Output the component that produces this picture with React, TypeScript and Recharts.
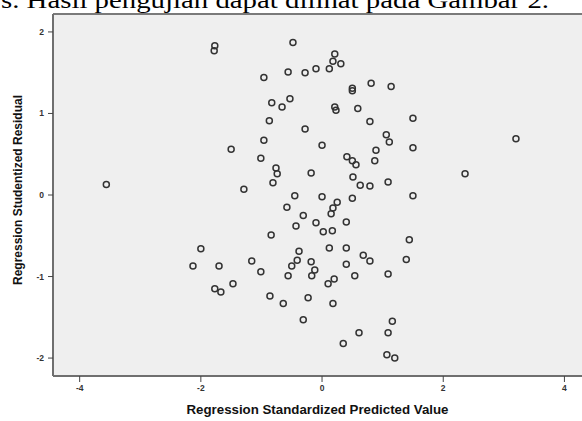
import React from 'react';
import { ScatterChart, Scatter, XAxis, YAxis, CartesianGrid, ReferenceLine } from 'recharts';

// Regression Standardized Predicted Value (x) and Studentized Residual (y)
const predictedValues = [
  -1.77, -1.78, -0.48, -0.96, -0.56, -0.28, -0.10, -0.83, -0.66, -0.53,
  -0.87, -0.28, -0.96, -1.50, -1.01, -0.76, -0.74, -0.18, -0.81, -1.29,
  -3.56, 0.00, 0.21, 0.18, 0.31, 0.12, 0.50, 0.50, 0.81, 1.14,
  0.21, 0.23, 0.59, 0.79, 1.50, 1.06, 1.11, 0.89, 0.87, 0.41,
  0.50, 0.56, 1.50, 0.51, 0.63, 0.79, 1.09, 2.36, 3.20, 1.50,
  0.00, -0.45, 0.25, 0.50, 0.18, 0.15, -0.58, -0.31, -0.43, -0.10,
  0.02, 0.17, 0.40, -0.84, -2.00, -2.13, -1.70, -1.16, -1.01, -0.38,
  -0.41, -0.50, -0.56, -0.18, -0.12, -0.17, 1.44, 0.12, 0.40, 0.68,
  0.79, 1.39, 0.40, 0.54, 1.09, 0.10, 0.20, -1.77, -1.67, -1.47,
  -0.86, -0.64, -0.23, 0.18, -0.31, 1.16, 0.61, 1.09, 0.35, 1.07,
  1.20,
];
const residualValues = [
  1.83, 1.77, 1.87, 1.44, 1.51, 1.50, 1.55, 1.13, 1.08, 1.18,
  0.91, 0.81, 0.67, 0.56, 0.45, 0.33, 0.26, 0.27, 0.15, 0.07,
  0.13, 0.61, 1.73, 1.64, 1.61, 1.55, 1.31, 1.28, 1.37, 1.33,
  1.08, 1.04, 1.06, 0.90, 0.94, 0.74, 0.65, 0.55, 0.42, 0.47,
  0.42, 0.37, 0.58, 0.22, 0.12, 0.11, 0.16, 0.26, 0.69, -0.01,
  -0.02, -0.01, -0.09, -0.04, -0.16, -0.23, -0.15, -0.25, -0.38, -0.34,
  -0.45, -0.44, -0.33, -0.49, -0.66, -0.87, -0.87, -0.81, -0.94, -0.69,
  -0.80, -0.87, -0.99, -0.82, -0.92, -0.99, -0.55, -0.65, -0.65, -0.74,
  -0.81, -0.79, -0.85, -0.99, -0.97, -1.09, -1.03, -1.15, -1.19, -1.09,
  -1.24, -1.33, -1.26, -1.33, -1.53, -1.55, -1.69, -1.69, -1.82, -1.96,
  -2.00,
];
const xTicks = [-4, -2, 0, 2, 4];
const yTicks = [-2, -1, 0, 1, 2];
const xDomain = [-4.44, 4.29];
const yDomain = [-2.22, 2.22];
const xTitle = 'Regression Standardized Predicted Value';
const yTitle = 'Regression Studentized Residual';
const captionText = 's. Hasil pengujian dapat dilihat pada Gambar 2.';

const data = predictedValues.map((x, i) => ({ x, y: residualValues[i] }));

const Ring = (props: any) => {
  const { cx, cy } = props;
  if (cx == null || cy == null) return null;
  return <circle cx={cx} cy={cy} r={3} fill="none" stroke="#333" strokeWidth={1.5} />;
};

const YTitle = (props: any) => {
  const vb = props.viewBox || {};
  const cy = vb.y + vb.height / 2 - 5;
  return (
    <text
      x={18}
      y={cy}
      transform={`rotate(-90, 18, ${cy})`}
      textAnchor="middle"
      dominantBaseline="central"
      fontFamily="Liberation Sans, Arial, sans-serif"
      fontWeight="bold"
      fontSize={12}
      fill="#111"
    >
      {yTitle}
    </text>
  );
};

const XTitle = (props: any) => {
  const vb = props.viewBox || {};
  const cx = vb.x + vb.width / 2;
  return (
    <text
      x={cx}
      y={414}
      textAnchor="middle"
      fontFamily="Liberation Sans, Arial, sans-serif"
      fontWeight="bold"
      fontSize={12}
      fill="#111"
      textLength={262}
      lengthAdjust="spacingAndGlyphs"
    >
      {xTitle}
    </text>
  );
};

const tickStyle = { fontSize: 8.5, fill: '#333', fontWeight: 'bold', fontFamily: 'Liberation Sans, Arial, sans-serif' };

export default function App() {
  return (
    <div style={{ position: 'absolute', left: 0, top: 0, width: 582, height: 421, background: '#fff', overflow: 'hidden' }}>
      <ScatterChart width={582} height={421} margin={{ top: 14, right: 0, left: 0, bottom: 0 }}>
        <CartesianGrid fill="#efefef" stroke="none" horizontal={false} vertical={false} />
        <XAxis
          type="number"
          dataKey="x"
          domain={xDomain}
          ticks={xTicks}
          allowDataOverflow
          height={45}
          axisLine={{ stroke: '#6f6f6f', strokeWidth: 2 }}
          tickLine={{ stroke: '#444' }}
          tickSize={6}
          tickMargin={3}
          tick={tickStyle}
          label={{ content: XTitle }}
        />
        <YAxis
          type="number"
          dataKey="y"
          domain={yDomain}
          ticks={yTicks}
          allowDataOverflow
          width={53}
          axisLine={{ stroke: '#6f6f6f', strokeWidth: 2 }}
          tickLine={{ stroke: '#444' }}
          tickSize={5}
          tickMargin={4}
          tick={tickStyle}
          label={{ content: YTitle }}
        />
        <ReferenceLine y={yDomain[1]} stroke="#7a7a7a" strokeWidth={2} />
        <Scatter data={data} shape={Ring} isAnimationActive={false} />
      </ScatterChart>
      <svg width={582} height={16} style={{ position: 'absolute', left: 0, top: 0 }}>
        <text
          x={1}
          y={8}
          fontFamily="Liberation Serif, Times New Roman, serif"
          fontSize={24}
          fill="#000"
          textLength={548}
          lengthAdjust="spacingAndGlyphs"
        >
          {captionText}
        </text>
      </svg>
    </div>
  );
}
